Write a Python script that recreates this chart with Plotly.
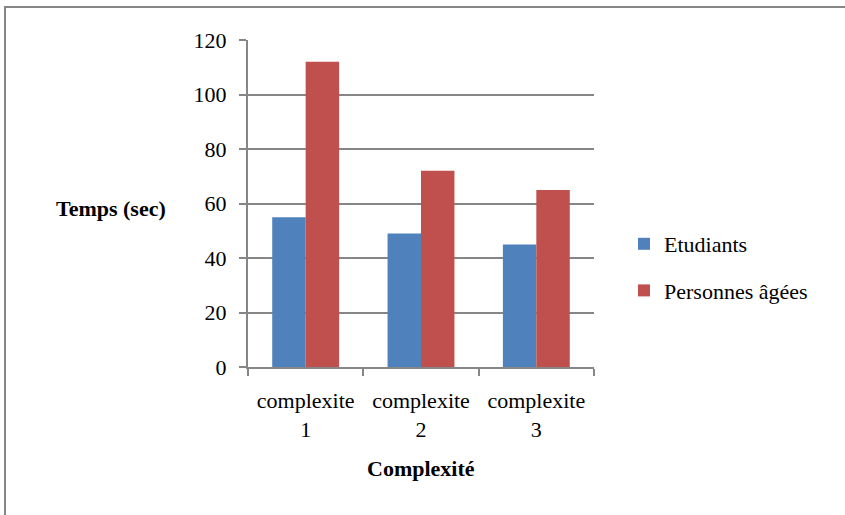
import plotly.graph_objects as go

# Data
categories = ["complexite<br>1", "complexite<br>2", "complexite<br>3"]
etudiants = [55, 49, 45]
personnes_agees = [112, 72, 65]
y_ticks = [0, 20, 40, 60, 80, 100, 120]

W, H = 845, 515
ML, MR, MT, MB = 248, 251, 40, 148
PW, PH = W - ML - MR, H - MT - MB

FONT = "Liberation Serif, Times New Roman, serif"
GRID = "#868686"
FS = 22

fig = go.Figure()
fig.add_trace(go.Bar(x=categories, y=etudiants, name="Etudiants",
                     marker=dict(color="#4F81BD", line=dict(width=0)),
                     legendgroup="a"))
fig.add_trace(go.Bar(x=categories, y=personnes_agees, name="Personnes âgées",
                     marker=dict(color="#C0504D", line=dict(width=0)),
                     legendgroup="b"))

fig.update_layout(
    width=W, height=H,
    margin=dict(l=ML, r=MR, t=MT, b=MB, autoexpand=False),
    paper_bgcolor="white", plot_bgcolor="white",
    barmode="group", bargap=0.42, bargroupgap=0,
    font=dict(family=FONT, size=FS, color="black"),
    showlegend=True,
    legend=dict(x=(624 - ML) / PW, y=(367 - 223) / PH, xanchor="left", yanchor="top",
                font=dict(family=FONT, size=FS), tracegroupgap=15,
                itemwidth=30, bgcolor="rgba(0,0,0,0)"),
    xaxis=dict(showline=True, linecolor=GRID, linewidth=2,
               ticks="outside", ticklen=7, tickcolor=GRID, tickwidth=2,
               tickson="boundaries", showgrid=False, zeroline=False,
               ticklabelstandoff=13,
               tickfont=dict(family=FONT, size=FS)),
    yaxis=dict(range=[0, 120], tickvals=y_ticks, showline=True, linecolor=GRID, linewidth=2,
               ticks="outside", ticklen=7, tickcolor=GRID, tickwidth=2,
               showgrid=True, gridcolor=GRID, gridwidth=2, zeroline=False,
               ticklabelstandoff=8,
               tickfont=dict(family=FONT, size=FS)),
    annotations=[
        dict(text="<b>Temps (sec)</b>", xref="paper", yref="paper",
             x=(111 - ML) / PW, y=(367 - 209) / PH, xanchor="center", yanchor="middle",
             showarrow=False, font=dict(family=FONT, size=FS)),
        dict(text="<b>Complexité</b>", xref="paper", yref="paper",
             x=(421 - ML) / PW, y=(367 - 469) / PH, xanchor="center", yanchor="middle",
             showarrow=False, font=dict(family=FONT, size=FS)),
    ],
    shapes=[
        dict(type="rect", xref="paper", yref="paper",
             x0=(5 - ML) / PW, x1=(W + 10 - ML) / PW,
             y0=(367 - (H + 10)) / PH, y1=(367 - 7) / PH,
             line=dict(color=GRID, width=2), fillcolor="rgba(0,0,0,0)", layer="below"),
    ],
)

fig.write_html("out.html")
